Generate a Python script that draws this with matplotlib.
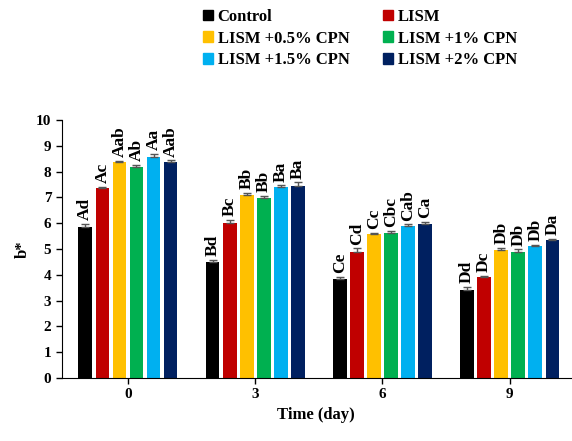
import numpy as np
import matplotlib
matplotlib.use("Agg")
import matplotlib.pyplot as plt
from matplotlib.patches import Patch

plt.rcParams['font.family'] = ['Liberation Serif', 'DejaVu Serif']
plt.rcParams['font.weight'] = 'bold'

days = ["0", "3", "6", "9"]
groups = ["Control", "LISM", "LISM +0.5% CPN", "LISM +1% CPN",
          "LISM +1.5% CPN", "LISM +2% CPN"]
colors = ["#000000", "#C00000", "#FFC000", "#00B050", "#00B0F0", "#002060"]

# b* per group, one value per day
control = [5.86, 4.51, 3.82, 3.41]
lism = [7.35, 6.00, 4.90, 3.90]
cpn05 = [8.38, 7.09, 5.58, 4.97]
cpn1 = [8.19, 6.99, 5.62, 4.90]
cpn15 = [8.58, 7.41, 5.90, 5.10]
cpn2 = [8.38, 7.45, 5.98, 5.35]

err_control = [0.10, 0.08, 0.08, 0.12]
err_lism = [0.06, 0.12, 0.12, 0.05]
err_cpn05 = [0.04, 0.08, 0.04, 0.08]
err_cpn1 = [0.05, 0.05, 0.08, 0.08]
err_cpn15 = [0.10, 0.05, 0.05, 0.04]
err_cpn2 = [0.05, 0.13, 0.08, 0.05]

lab_control = ["Ad", "Bd", "Ce", "Dd"]
lab_lism = ["Ac", "Bc", "Cd", "Dc"]
lab_cpn05 = ["Aab", "Bb", "Cc", "Db"]
lab_cpn1 = ["Ab", "Bb", "Cbc", "Db"]
lab_cpn15 = ["Aa", "Ba", "Cab", "Db"]
lab_cpn2 = ["Aab", "Ba", "Ca", "Da"]

values = [control, lism, cpn05, cpn1, cpn15, cpn2]
errors = [err_control, err_lism, err_cpn05, err_cpn1, err_cpn15, err_cpn2]
labels = [lab_control, lab_lism, lab_cpn05, lab_cpn1, lab_cpn15, lab_cpn2]

fig = plt.figure(figsize=(5.72, 4.41), dpi=100)
ax = fig.add_axes([0.108, 0.143, 0.89, 0.585])

x = np.arange(len(days))
pitch = 0.134
width = 0.108
for i, (vals, errs, labs) in enumerate(zip(values, errors, labels)):
    pos = x + (i - 2.5) * pitch
    ax.bar(pos, vals, width, color=colors[i], zorder=2)
    ax.errorbar(pos, vals, yerr=[np.zeros(4), errs], fmt='none',
                ecolor='#555555', elinewidth=1, capsize=3, capthick=1, zorder=3)
    for p, v, e, t in zip(pos, vals, errs, labs):
        ax.text(p, v + e + 0.15, t, rotation=90, ha='center', va='bottom',
                fontsize=12.5, fontweight='bold')

ax.set_xlim(-0.52, 3.48)
ax.set_ylim(0, 10)
ax.set_yticks(range(0, 11))
ax.set_xticks(x)
ax.set_xticklabels(days)
ax.tick_params(labelsize=11, direction='out', length=4, width=1)
ax.spines['top'].set_visible(False)
ax.spines['right'].set_visible(False)
ax.set_ylabel("b*", fontsize=12, fontweight='bold')
ax.set_xlabel("Time (day)", fontsize=12, fontweight='bold')

# legend is filled row by row in the reference
order = [0, 2, 4, 1, 3, 5]
handles = [Patch(color=colors[k]) for k in order]
fig.legend(handles, [groups[k] for k in order], loc='upper left',
           bbox_to_anchor=(0.328, 1.014), ncol=2, frameon=False,
           handlelength=0.6, handleheight=0.6, handletextpad=0.3,
           columnspacing=2.0, labelspacing=0.35,
           prop={'weight': 'bold', 'size': 12})

fig.savefig("out.png", dpi=100)
